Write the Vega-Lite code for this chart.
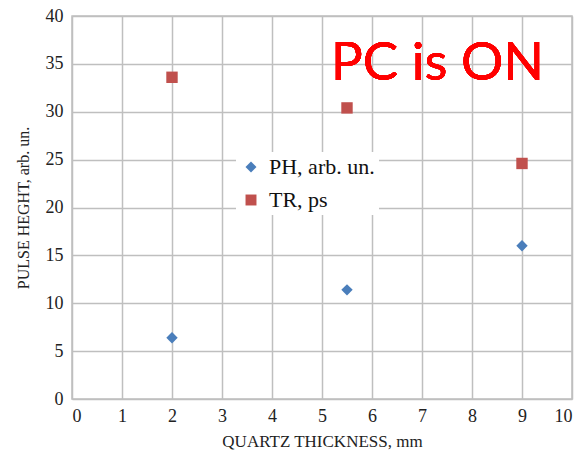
{
  "$schema": "https://vega.github.io/schema/vega-lite/v6.json",
  "autosize": "none",
  "width": 500,
  "height": 383,
  "padding": {"left": 72, "top": 16, "right": 14, "bottom": 55},
  "background": "white",
  "config": {
    "view": {"stroke": "#bfbfbf", "strokeWidth": 1.5},
    "axis": {
      "labelFont": "Liberation Serif",
      "labelFontSize": 18,
      "labelColor": "#222222",
      "titleFont": "Liberation Serif",
      "titleFontWeight": "normal",
      "titleColor": "#222222",
      "gridColor": "#bfbfbf",
      "gridWidth": 1.5,
      "gridOpacity": 1,
      "domain": false,
      "ticks": false
    }
  },
  "data": {
    "values": [
      {"thickness": 2, "value": 6.4, "series": "PH, arb. un."},
      {"thickness": 5.5, "value": 11.4, "series": "PH, arb. un."},
      {"thickness": 9, "value": 16.0, "series": "PH, arb. un."},
      {"thickness": 2, "value": 33.6, "series": "TR, ps"},
      {"thickness": 5.5, "value": 30.4, "series": "TR, ps"},
      {"thickness": 9, "value": 24.6, "series": "TR, ps"}
    ]
  },
  "layer": [
    {
      "mark": {"type": "point", "filled": true, "opacity": 1, "size": 130},
      "encoding": {
        "x": {
          "field": "thickness", "type": "quantitative",
          "scale": {"domain": [0, 10], "nice": false},
          "axis": {"values": [0,1,2,3,4,5,6,7,8,9,10], "title": "QUARTZ  THICKNESS,  mm", "titleFontSize": 17, "labelPadding": 8, "titlePadding": 8}
        },
        "y": {
          "field": "value", "type": "quantitative",
          "scale": {"domain": [0, 40], "nice": false},
          "axis": {"values": [0,5,10,15,20,25,30,35,40], "title": "PULSE HEGHT, arb. un.", "titleFontSize": 16, "labelPadding": 9, "titlePadding": 14}
        },
        "color": {
          "field": "series", "type": "nominal",
          "scale": {"domain": ["PH, arb. un.", "TR, ps"], "range": ["#4a7ebb", "#c0504d"]},
          "legend": {
            "orient": "none", "legendX": 164, "legendY": 136,
            "title": null,
            "fillColor": "white",
            "labelFont": "Liberation Serif", "labelFontSize": 22, "labelColor": "#111111",
            "symbolSize": 120, "rowPadding": 11, "padding": 4, "labelOffset": 7
          }
        },
        "shape": {
          "field": "series", "type": "nominal",
          "scale": {"domain": ["PH, arb. un.", "TR, ps"], "range": ["diamond", "square"]},
          "legend": null
        }
      }
    },
    {
      "mark": {"type": "text", "text": "PC is ON", "font": "Lato", "fontSize": 53, "color": "#ff0000", "align": "left", "baseline": "alphabetic"},
      "encoding": {
        "x": {"datum": 5.18, "type": "quantitative"},
        "y": {"datum": 33.3, "type": "quantitative"}
      }
    }
  ]
}
